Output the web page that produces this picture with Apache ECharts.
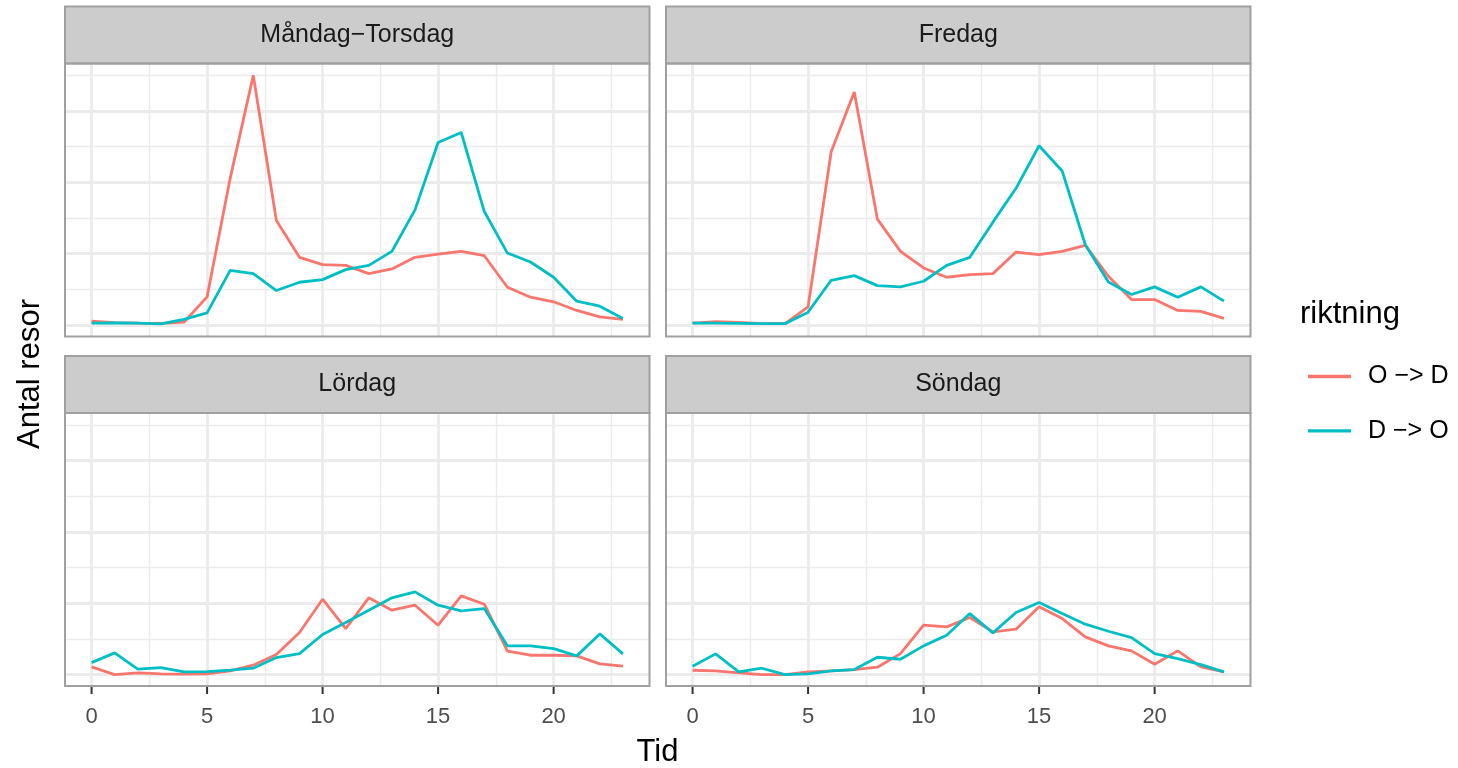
<!DOCTYPE html>
<html><head><meta charset="utf-8">
<script src="https://cdn.jsdelivr.net/npm/echarts@6/dist/echarts.min.js"></script>
<style>html,body{margin:0;padding:0;background:#fff}#c{width:1458px;height:768px}</style>
</head><body><div id="c"></div>
<script>
// ---------- data ----------
const hours = [0,1,2,3,4,5,6,7,8,9,10,11,12,13,14,15,16,17,18,19,20,21,22,23];
const panelNames = ["Måndag−Torsdag", "Fredag", "Lördag", "Söndag"];
const seriesNames = ["O −> D", "D −> O"];
const mtOD = [56,35,28,25,40,395,2056,3498,1465,949,847,837,721,786,949,995,1033,972,530,391,326,205,116,79];
const mtDO = [28,30,28,18,80,172,767,721,484,600,637,777,837,1033,1614,2558,2698,1591,1009,884,670,335,265,93];
const frOD = [28,47,37,20,19,256,2428,3265,1484,1033,800,670,707,721,1023,986,1033,1116,684,358,358,205,191,93];
const frDO = [28,28,25,20,19,181,628,693,553,535,614,837,949,1442,1916,2512,2158,1126,605,428,535,391,535,335];
const loOD = [107,0,23,9,5,9,51,131,280,589,1056,645,1075,902,972,692,1103,986,327,271,271,262,150,117];
const loDO = [168,304,75,98,37,42,61,89,238,294,561,729,902,1075,1159,972,893,925,402,402,364,262,570,290];
const soOD = [61,51,23,0,0,37,51,70,103,294,692,668,799,598,636,949,785,528,402,332,145,332,107,37];
const soDO = [117,290,37,89,0,9,51,70,243,215,402,551,855,584,869,1009,855,706,607,519,294,224,140,37];
const xMajor = [0,5,10,15,20];
const xMinor = [2.5,7.5,12.5,17.5,22.5];
const yMajor = [0,1000,2000,3000];
const yMinor = [500,1500,2500,3500];
const xTitle = "Tid";
const yTitle = "Antal resor";
const legendTitle = "riktning";

// ---------- layout ----------
const panelData = [[mtOD, mtDO], [frOD, frDO], [loOD, loDO], [soOD, soDO]];
const colors = ["#F8766D", "#00BFC4"];
const FONT = "'Liberation Sans', Arial, sans-serif";
const PW = 584.5, PH = 273;
const lefts = [65, 666, 65, 666];
const tops = [63.5, 63.5, 413, 413];
const stripH = 57;

const chart = echarts.init(document.getElementById('c'), null, {renderer: 'canvas'});

const grid = [], xAxis = [], yAxis = [], series = [], graphic = [];
for (let i = 0; i < 4; i++) {
  const bottomRow = i >= 2;
  grid.push({left: lefts[i], top: tops[i], width: PW, height: PH, show: false, containLabel: false});
  xAxis.push({
    type: 'value', gridIndex: i, min: -1.15, max: 24.15, position: 'bottom',
    axisLine: {show: false, onZero: false},
    splitLine: {show: false},
    axisTick: {show: false},
    axisLabel: {show: bottomRow, customValues: xMajor, color: '#4D4D4D', fontSize: 22, fontFamily: FONT, margin: 20}
  });
  yAxis.push({
    type: 'value', gridIndex: i, min: -160, max: 3665,
    axisLine: {show: false, onZero: false}, axisTick: {show: false}, axisLabel: {show: false}, splitLine: {show: false}
  });
  const gl = [];
  xMinor.forEach(v => gl.push({xAxis: v, lineStyle: {width: 1.4}}));
  yMinor.forEach(v => gl.push({yAxis: v, lineStyle: {width: 1.4}}));
  xMajor.forEach(v => gl.push({xAxis: v, lineStyle: {width: 2.8}}));
  yMajor.forEach(v => gl.push({yAxis: v, lineStyle: {width: 2.8}}));
  series.push({
    type: 'line', name: '_grid' + i, xAxisIndex: i, yAxisIndex: i, data: [], z: 1,
    silent: true, animation: false,
    markLine: {z: 1, silent: true, symbol: ['none', 'none'], label: {show: false}, animation: false,
      lineStyle: {color: '#EBEBEB', type: 'solid'}, emphasis: {disabled: true}, data: gl}
  });
  for (let s = 0; s < 2; s++) {
    series.push({
      type: 'line', name: seriesNames[s], xAxisIndex: i, yAxisIndex: i, z: 10,
      data: hours.map((h, k) => [h, panelData[i][s][k]]),
      showSymbol: false, symbol: 'none', animation: false,
      color: colors[s],
      lineStyle: {color: colors[s], width: 2.8},
      itemStyle: {color: colors[s]}
    });
  }
  // strip
  const sTop = tops[i] - stripH;
  graphic.push({type: 'rect', z: 50, shape: {x: lefts[i], y: sTop, width: PW, height: stripH},
    style: {fill: '#CCCCCC', stroke: '#A0A0A0', lineWidth: 2}});
  graphic.push({type: 'text', z: 51, style: {text: panelNames[i], x: lefts[i] + PW / 2, y: sTop + stripH / 2,
    align: 'center', verticalAlign: 'middle', fill: '#1A1A1A', fontSize: 25, fontFamily: FONT}});
  // panel border
  graphic.push({type: 'rect', z: 50, shape: {x: lefts[i], y: tops[i], width: PW, height: PH},
    style: {fill: 'none', stroke: '#A0A0A0', lineWidth: 2}});
}
graphic.push({type: 'text', z: 51, style: {text: xTitle, x: 657.5, y: 752, align: 'center', verticalAlign: 'middle',
  fill: '#000', fontSize: 31, fontFamily: FONT}});
graphic.push({type: 'text', z: 51, x: 30, y: 374, rotation: Math.PI / 2, style: {text: yTitle, x: 0, y: 0,
  align: 'center', verticalAlign: 'middle', fill: '#000', fontSize: 31, fontFamily: FONT}});
graphic.push({type: 'text', z: 51, style: {text: legendTitle, x: 1300, y: 314, align: 'left', verticalAlign: 'middle',
  fill: '#000', fontSize: 31, fontFamily: FONT}});

chart.setOption({
  animation: false,
  backgroundColor: '#ffffff',
  grid, xAxis, yAxis, series, graphic,
  legend: {
    data: seriesNames, orient: 'vertical', left: 1303, top: 359,
    icon: 'rect', itemWidth: 43, itemHeight: 3.4, itemGap: 29.4,
    selectedMode: false,
    textStyle: {fontSize: 25, color: '#000', fontFamily: FONT, padding: [0, 0, 0, 12]}
  }
});

// axis ticks for the bottom row, placed through the axis scale
const ticks = [];
[2, 3].forEach(i => {
  const yb = tops[i] + PH + 1;
  xMajor.forEach(v => {
    const px = chart.convertToPixel({xAxisIndex: i}, v);
    ticks.push({type: 'line', z: 52, shape: {x1: px, y1: yb, x2: px, y2: yb + 7},
      style: {stroke: '#333333', lineWidth: 2}});
  });
});
chart.setOption({graphic: graphic.concat(ticks)});
</script></body></html>
